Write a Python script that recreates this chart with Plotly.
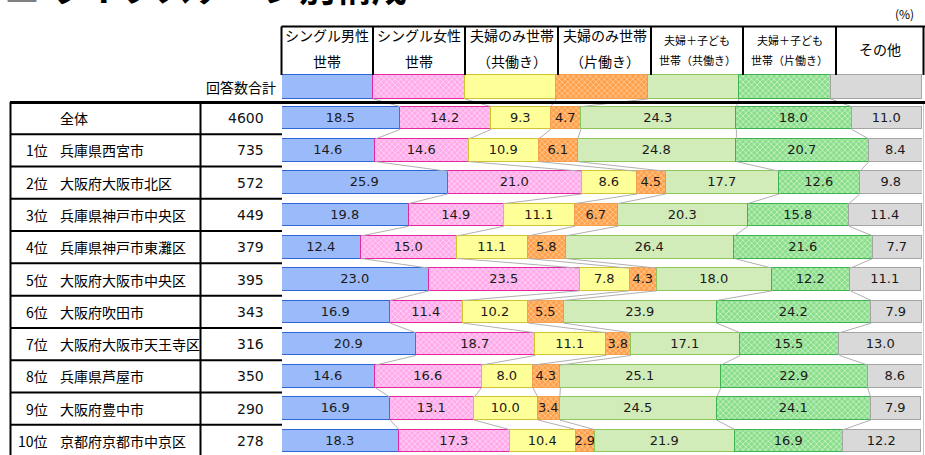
import plotly.graph_objects as go

# ---------------- data ----------------
rank_labels = ["", "1位", "2位", "3位", "4位", "5位", "6位", "7位", "8位", "9位", "10位"]
area_names = ["全体", "兵庫県西宮市", "大阪府大阪市北区", "兵庫県神戸市中央区", "兵庫県神戸市東灘区",
              "大阪府大阪市中央区", "大阪府吹田市", "大阪府大阪市天王寺区", "兵庫県芦屋市",
              "大阪府豊中市", "京都府京都市中京区"]
answer_counts = [4600, 735, 572, 449, 379, 395, 343, 316, 350, 290, 278]

single_male = [18.5, 14.6, 25.9, 19.8, 12.4, 23.0, 16.9, 20.9, 14.6, 16.9, 18.3]
single_female = [14.2, 14.6, 21.0, 14.9, 15.0, 23.5, 11.4, 18.7, 16.6, 13.1, 17.3]
couple_dual = [9.3, 10.9, 8.6, 11.1, 11.1, 7.8, 10.2, 11.1, 8.0, 10.0, 10.4]
couple_single = [4.7, 6.1, 4.5, 6.7, 5.8, 4.3, 5.5, 3.8, 4.3, 3.4, 2.9]
family_dual = [24.3, 24.8, 17.7, 20.3, 26.4, 18.0, 23.9, 17.1, 25.1, 24.5, 21.9]
family_single = [18.0, 20.7, 12.6, 15.8, 21.6, 12.2, 24.2, 15.5, 22.9, 24.1, 16.9]
other = [11.0, 8.4, 9.8, 11.4, 7.7, 11.1, 7.9, 13.0, 8.6, 7.9, 12.2]

series_top = ["シングル男性", "シングル女性", "夫婦のみ世帯", "夫婦のみ世帯", "夫婦＋子ども", "夫婦＋子ども", "その他"]
series_bottom = ["世帯", "世帯", "（共働き）", "（片働き）", "世帯（共働き）", "世帯（片働き）", ""]

series_values = [single_male, single_female, couple_dual, couple_single, family_dual, family_single, other]

# ---------------- styling ----------------
W, H = 925, 455
fills = ["#9bbafa", "#ffaaea", "#ffff99", "#ffa04a", "#d1ebb9", "#8ade8a", "#d9d9d9"]
borders = ["#2f66d6", "#e6289f", "#d2c62e", "#f4a050", "#8cc75a", "#3fb34f", "#a5a5a5"]
patterns = [None, "#ffe2f7", None, "#ffd6ad", None, "#dcf6dc", None]

JP = "Noto Sans CJK JP"
NUM = "DejaVu Sans, Noto Sans CJK JP"

def px(x):
    return x / W

def py(y):
    return 1 - y / H

# y data coordinates: row i centre at pixel 118 + 32.3*i
ROW0, STEP = 118.0, 32.3
y_lo = (H - ROW0) / STEP
y_hi = -ROW0 / STEP
legend_y = -0.96
row_ys = list(range(len(area_names)))
all_ys = [legend_y] + row_ys
widths = [0.74] + [0.70] * len(row_ys)

fig = go.Figure()

n_series = len(series_values)
legend_val = 100.0 / n_series
for k, vals in enumerate(series_values):
    marker = dict(color=fills[k], line=dict(color=borders[k], width=1.5))
    if patterns[k]:
        marker["pattern"] = dict(shape="x", bgcolor=fills[k], fgcolor=patterns[k],
                                 size=4, solidity=0.3, fillmode="replace")
    fig.add_trace(go.Bar(
        orientation="h",
        x=[legend_val] + vals,
        y=all_ys,
        width=widths,
        marker=marker,
        text=[""] + [f"{v:.1f}" for v in vals],
        textposition="inside",
        insidetextanchor="middle",
        textangle=0,
        textfont=dict(family=NUM, size=13, color="#1a1a1a"),
        hoverinfo="skip",
        showlegend=False,
    ))

# connector lines between consecutive rows (from data)
rows_vals = [[legend_val] * n_series] + [[s[i] for s in series_values] for i in range(len(row_ys))]
cx, cy = [], []
for r in range(len(rows_vals) - 1):
    a, b = rows_vals[r], rows_vals[r + 1]
    ca = cb = 0.0
    for k in range(n_series - 1):
        ca += a[k]
        cb += b[k]
        cx += [ca, cb, None]
        cy += [all_ys[r] + widths[r] / 2, all_ys[r + 1] - widths[r + 1] / 2, None]
fig.add_trace(go.Scatter(x=cx, y=cy, mode="lines", line=dict(color="#b0b0b0", width=1),
                         hoverinfo="skip", showlegend=False))

shapes = []
def hline(x0, x1, y, w=2, color="black"):
    shapes.append(dict(type="line", xref="paper", yref="paper", x0=px(x0), x1=px(x1),
                       y0=py(y), y1=py(y), line=dict(color=color, width=w), layer="above"))

def vline(x, y0, y1, w=2, color="black"):
    shapes.append(dict(type="line", xref="paper", yref="paper", x0=px(x), x1=px(x),
                       y0=py(y0), y1=py(y1), line=dict(color=color, width=w), layer="above"))

# header box
header_x = [281.5, 373, 465, 558, 651, 743, 836, 923.5]
hline(281.5, 925, 26.5)
for xv in header_x:
    vline(xv, 26.5, 75)

# thick line across top of table
hline(10, 925, 102.5, w=3)
# left table
vline(10.5, 102, 456)
vline(200.5, 102, 456)
for i in range(len(row_ys) - 1):
    yb = ROW0 + STEP * (i + 0.5)
    hline(10, 282, yb)
# faint sheet gridline at far right
vline(923.5, 104, 456, w=1, color="#c8c8c8")

annotations = []
def text(x, y, s, size=14, anchor="center", family=JP, color="black"):
    annotations.append(dict(x=px(x), y=py(y), xref="paper", yref="paper",
                            text=s, showarrow=False, xanchor=anchor, yanchor="middle",
                            font=dict(family=family, size=size, color=color)))

# header labels
for k in range(n_series):
    xc = (header_x[k] + header_x[k + 1]) / 2
    small = k in (4, 5)
    fs = 11 if small else 14
    if series_bottom[k]:
        text(xc, 35 if not small else 40, series_top[k], size=fs)
        text(xc, 61.5 if not small else 60, series_bottom[k], size=fs)
    else:
        text(xc, 49, series_top[k], size=fs)

text(278, 87, "回答数合計", size=14, anchor="right")
text(916, 13, "(%)", size=12, anchor="right")

# row labels
for i, y in enumerate(row_ys):
    if rank_labels[i]:
        annotations.append(dict(x=px(50), y=y, xref="paper", yref="y", text=rank_labels[i],
                                showarrow=False, xanchor="right", yanchor="middle",
                                font=dict(family=JP, size=14, color="black")))
    annotations.append(dict(x=px(58), y=y, xref="paper", yref="y", text=area_names[i],
                            showarrow=False, xanchor="left", yanchor="middle",
                            font=dict(family=JP, size=14, color="black")))
    annotations.append(dict(x=px(266), y=y, xref="paper", yref="y", text=str(answer_counts[i]),
                            showarrow=False, xanchor="right", yanchor="middle",
                            font=dict(family=NUM, size=14, color="#111111")))

# title (partly above the visible page, as in the reference)
annotations.append(dict(x=px(2), y=py(14), xref="paper", yref="paper",
                        text="<span style='color:#808080'>■</span> <b>ライフステージ別構成</b>",
                        showarrow=False, xanchor="left", yanchor="bottom",
                        font=dict(family=JP, size=36, color="black")))

fig.update_layout(
    width=W, height=H, autosize=False,
    margin=dict(l=0, r=0, t=0, b=0, pad=0),
    paper_bgcolor="white", plot_bgcolor="white",
    barmode="stack", bargap=0,
    uniformtext=dict(minsize=13, mode="show"),
    xaxis=dict(domain=[px(282), px(922)], range=[0, 100], visible=False, fixedrange=True),
    yaxis=dict(domain=[0, 1], range=[y_lo, y_hi], visible=False, fixedrange=True),
    shapes=shapes, annotations=annotations,
    showlegend=False,
)

fig.write_html("out.html", config={"displayModeBar": False},
               post_script="document.body.style.margin='0';document.body.style.overflow='hidden';")
